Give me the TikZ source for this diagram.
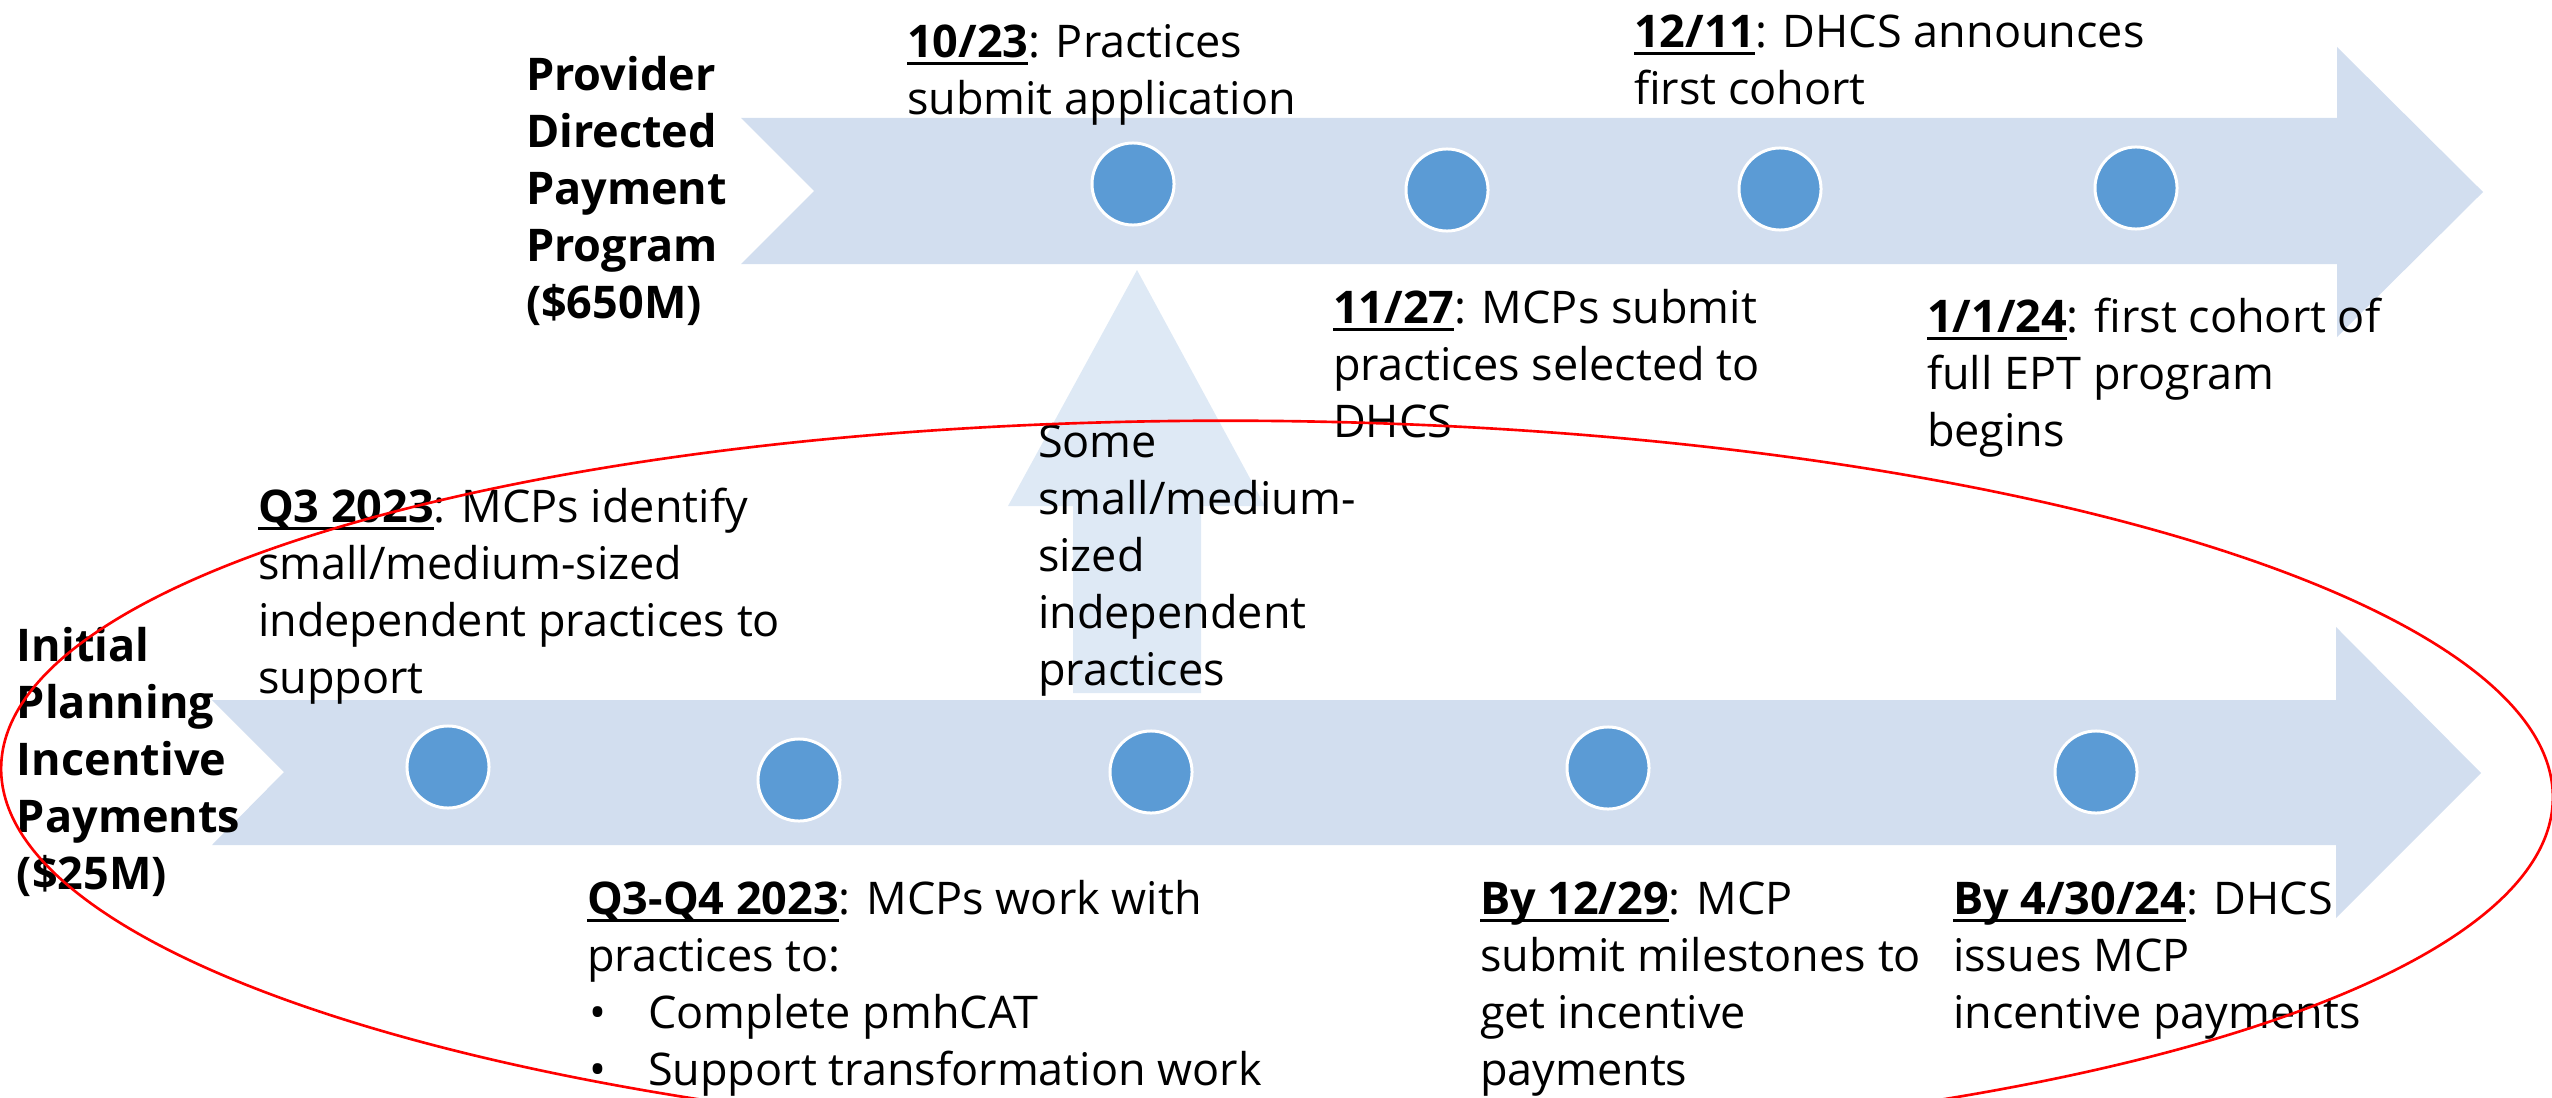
\documentclass[tikz,border=0pt]{standalone}
\usepackage{fontspec}
\setmainfont{Open Sans}

\definecolor{bandblue}{HTML}{D2DEEF}
\definecolor{liftblue}{HTML}{DEE9F5}
\definecolor{dotblue}{HTML}{5B9BD5}

% bold, underlined date
\newlength\dtw
\newcommand\dt[1]{\settowidth{\dtw}{\bfseries #1}\rlap{\rule[-2.1pt]{\dtw}{0.8pt}}{\bfseries #1}}
% fixed first-line height so every block hangs from the same offset above its baseline
\newcommand\fls{\rule{0pt}{10pt}}
% bullet item lead-in
\newcommand\bul{\makebox[0.61cm][l]{\hspace{0.02cm}\textbullet}}

\begin{document}
\begin{tikzpicture}[x=0.01cm,y=-0.01cm,
  every node/.style={inner sep=0pt,outer sep=0pt},
  lbl/.style={anchor=north west, align=left, font=\fontsize{12.8}{16.2}\selectfont},
  head/.style={lbl, font=\fontsize{12.8}{16.2}\selectfont\bfseries},
  dot/.style={circle, fill=dotblue, draw=white, line width=0.85pt, minimum size=0.82cm}]

\useasboundingbox (0,0) rectangle (2552,1097);
\clip (0,0) rectangle (2552,1097);

% timeline bands
\fill[bandblue] (741,118) -- (2337,118) -- (2337,47) -- (2483,192) -- (2337,337)
  -- (2337,264) -- (741,264) -- (814,191) -- cycle;
\fill[bandblue] (212,700) -- (2336,700) -- (2336,627) -- (2481,773) -- (2336,918)
  -- (2336,845) -- (212,845) -- (284,772) -- cycle;

% upward arrow between the two programs
\fill[liftblue] (1073,693) -- (1073,506) -- (1008,506) -- (1137,270) -- (1265,506)
  -- (1201,506) -- (1201,693) -- cycle;

% milestones, upper band
\node[dot] (t1) at (1133,184) {};
\node[dot] (t2) at (1447,190) {};
\node[dot] (t3) at (1780,189) {};
\node[dot] (t4) at (2136,188) {};

% milestones, lower band
\node[dot] (b1) at (448,767) {};
\node[dot] (b2) at (799,780) {};
\node[dot] (b3) at (1151,772) {};
\node[dot] (b4) at (1608,768) {};
\node[dot] (b5) at (2096,772) {};

% program titles
\node[head] (prov) at (526,55) {\fls Provider\\Directed\\Payment\\Program\\(\$650M)};
\node[head] (init) at (17,626) {\fls Initial\\Planning\\Incentive\\Payments\\(\$25M)};

% upper band labels
\node[lbl] (m1023) at (907,22) {\fls\dt{10/23}: Practices\\submit application};
\node[lbl] (m1211) at (1634,12) {\fls\dt{12/11}: DHCS announces\\first cohort};
\node[lbl] (m1127) at (1333,288) {\fls\dt{11/27}: MCPs submit\\practices selected to\\DHCS};
\node[lbl] (m0101) at (1927,297) {\fls\dt{1/1/24}: first cohort of\\full EPT program\\begins};

% lower band labels
\node[lbl] (mq3) at (258,487) {\fls\dt{Q3 2023}: MCPs identify\\small/medium-sized\\independent practices to\\support};
\node[lbl] (msome) at (1038,422) {\fls Some\\small/medium-\\sized\\independent\\practices};
\node[lbl] (mq34) at (587,879) {\fls\dt{Q3-Q4 2023}: MCPs work with\\practices to:\\\bul Complete pmhCAT\\\bul Support transformation work};
\node[lbl] (m1229) at (1480,879) {\fls\dt{By 12/29}: MCP\\submit milestones to\\get incentive\\payments};
\node[lbl] (m0430) at (1953,879) {\fls\dt{By 4/30/24}: DHCS\\issues MCP\\incentive payments};

% highlight ring around the planning program
\draw[red, line width=0.75pt, rotate around={-0.7:(1277,783)}]
  (1277,783) ellipse [x radius=1276, y radius=362];

\end{tikzpicture}
\end{document}
